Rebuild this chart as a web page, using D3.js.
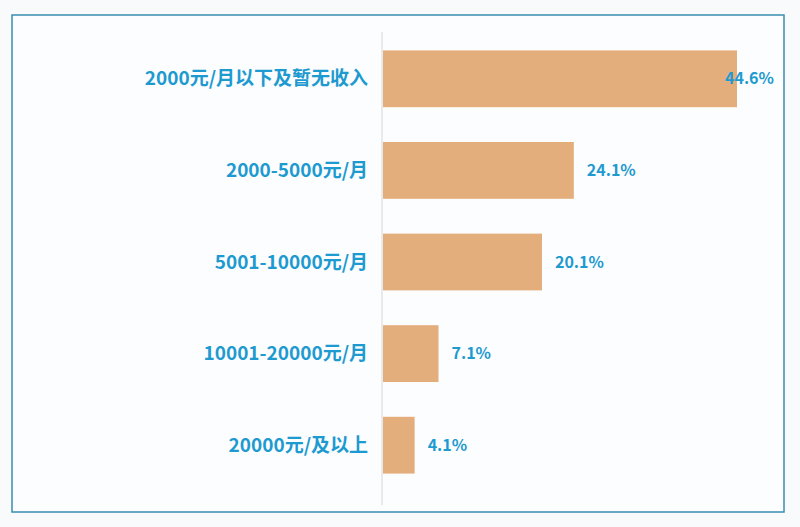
<!DOCTYPE html>
<html>
<head>
<meta charset="utf-8">
<script src="https://cdn.jsdelivr.net/npm/d3@7"></script>
<style>
  body { margin: 0; background: #f8fafb; }
  svg { display: block; }
  text { font-family: "Noto Sans CJK SC", "Noto Sans", sans-serif; font-weight: 700; }
</style>
</head>
<body>
<script>
// income bands, top to bottom, with share of respondents (%)
const categories = ['2000元/月以下及暂无收入', '2000-5000元/月', '5001-10000元/月', '10001-20000元/月', '20000元/及以上'];
const shares = [44.6, 24.1, 20.1, 7.1, 4.1];
const shareLabels = ['44.6%', '24.1%', '20.1%', '7.1%', '4.1%'];

const svg = d3.select(document.body).append('svg')
  .attr('width', 800)
  .attr('height', 527);

// outer frame
svg.append('rect')
  .attr('x', 12).attr('y', 15)
  .attr('width', 772).attr('height', 497)
  .attr('fill', '#fcfdfe')
  .attr('stroke', '#3a8db3')
  .attr('stroke-width', 1.5);

const left = 382;
const plotRight = 775;

const x = d3.scaleLinear()
  .domain([0, 44.6])
  .range([left, 737]);

const y = d3.scaleBand()
  .domain(categories)
  .range([33, 491])
  .paddingInner(0.38)
  .paddingOuter(0.19);

// bars
svg.selectAll('rect.bar')
  .data(shares)
  .join('rect')
  .attr('class', 'bar')
  .attr('x', x(0) + 1)
  .attr('y', (d, i) => y(categories[i]))
  .attr('width', d => x(d) - x(0) - 1)
  .attr('height', y.bandwidth())
  .attr('fill', '#e4ae7c');

// axis line
svg.append('line')
  .attr('x1', left).attr('x2', left)
  .attr('y1', 32).attr('y2', 505)
  .attr('stroke', '#d4d6d8')
  .attr('stroke-width', 1);

// category labels
svg.selectAll('text.cat')
  .data(categories)
  .join('text')
  .attr('class', 'cat')
  .attr('x', 368)
  .attr('y', d => y(d) + y.bandwidth() / 2)
  .attr('dy', '0.35em')
  .attr('text-anchor', 'end')
  .attr('font-size', 19)
  .attr('fill', '#1d9ad0')
  .text(d => d);

// value labels, pushed back inside when they'd cross the plot edge
svg.selectAll('text.val')
  .data(shares)
  .join('text')
  .attr('class', 'val')
  .attr('x', d => Math.min(x(d) + 13, plotRight - 50))
  .attr('y', (d, i) => y(categories[i]) + y.bandwidth() / 2)
  .attr('dy', '0.35em')
  .attr('font-size', 16)
  .attr('fill', '#1d9ad0')
  .text((d, i) => shareLabels[i]);
</script>
</body>
</html>
